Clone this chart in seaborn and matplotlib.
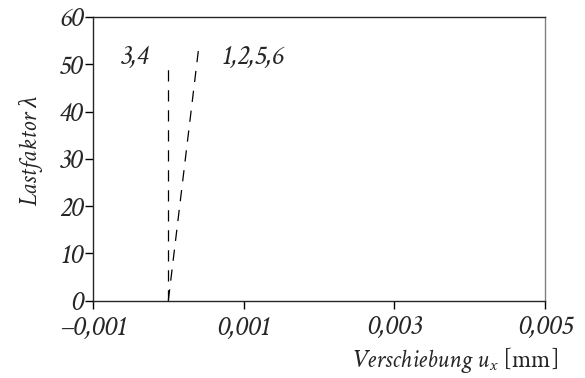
import matplotlib
matplotlib.use("Agg")
import matplotlib.pyplot as plt
import pandas as pd
import seaborn as sns

# Load-displacement paths (endpoints of each linear path)
series_names = ["3,4", "3,4", "1,2,5,6", "1,2,5,6"]
displacement = [0.0, 0.0, 0.0, 0.00041]
load_factor = [0.0, 50.5, 0.0, 54.4]

x_ticks = [-0.001, 0.001, 0.003, 0.005]
x_ticklabels = ["\u20130,001", "0,001", "0,003", "0,005"]
y_ticks = [0, 10, 20, 30, 40, 50, 60]

SERIF = ["Crimson Text", "Liberation Serif", "DejaVu Serif"]
FS = 18        # axis titles
FS_NUM = 20.5  # numerals (tick labels, series labels)

df = pd.DataFrame({"Knoten": series_names, "u": displacement, "lam": load_factor})

sns.set_style("ticks")
plt.rcParams["font.family"] = SERIF
plt.rcParams["mathtext.fontset"] = "custom"
plt.rcParams["mathtext.it"] = "Crimson Text:italic"
plt.rcParams["mathtext.rm"] = "Crimson Text"

fig = plt.figure(figsize=(5.85, 3.78), dpi=100)
ax = fig.add_axes([93 / 585, 1 - 300.5 / 378, (545 - 93) / 585, (300.5 - 17) / 378])

sns.lineplot(data=df, x="u", y="lam", units="Knoten", estimator=None,
             color="black", linewidth=0.9, sort=False, ax=ax)
for line in ax.get_lines():
    line.set_dashes((9, 7))

ax.set_xlim(-0.001, 0.005)
ax.set_ylim(0, 60)
ax.set_xticks(x_ticks)
ax.set_xticklabels(x_ticklabels, family=SERIF, fontstyle="italic", fontsize=FS_NUM)
ax.set_yticks(y_ticks)
ax.set_yticklabels([str(v) for v in y_ticks], family=SERIF, fontstyle="italic", fontsize=FS_NUM)
ax.tick_params(axis="both", direction="out", length=6, width=1, color="black")
ax.tick_params(axis="y", pad=1)
ax.tick_params(axis="x", pad=5)

for side in ["top", "left", "bottom", "right"]:
    ax.spines[side].set_visible(True)
    ax.spines[side].set_linewidth(1)
ax.spines["right"].set_color("#808080")

ax.set_xlabel("")
ax.set_ylabel("")
fig.text(558 / 585, 1 - 360 / 378, r"$Verschiebung\ u_x$ [mm]", ha="right", va="center",
         family=SERIF, fontsize=FS)
fig.text(31 / 585, 1 - 151 / 378, "Lastfaktor \u03bb", ha="center", va="center",
         rotation=90, family=SERIF, fontstyle="italic", fontsize=FS)

ax.text(-0.00064, 51.5, "3,4", family=SERIF, fontstyle="italic", fontsize=FS_NUM,
        ha="left", va="center")
ax.text(0.00071, 51.5, "1,2,5,6", family=SERIF, fontstyle="italic", fontsize=FS_NUM,
        ha="left", va="center")

fig.savefig("out.png", dpi=100)
